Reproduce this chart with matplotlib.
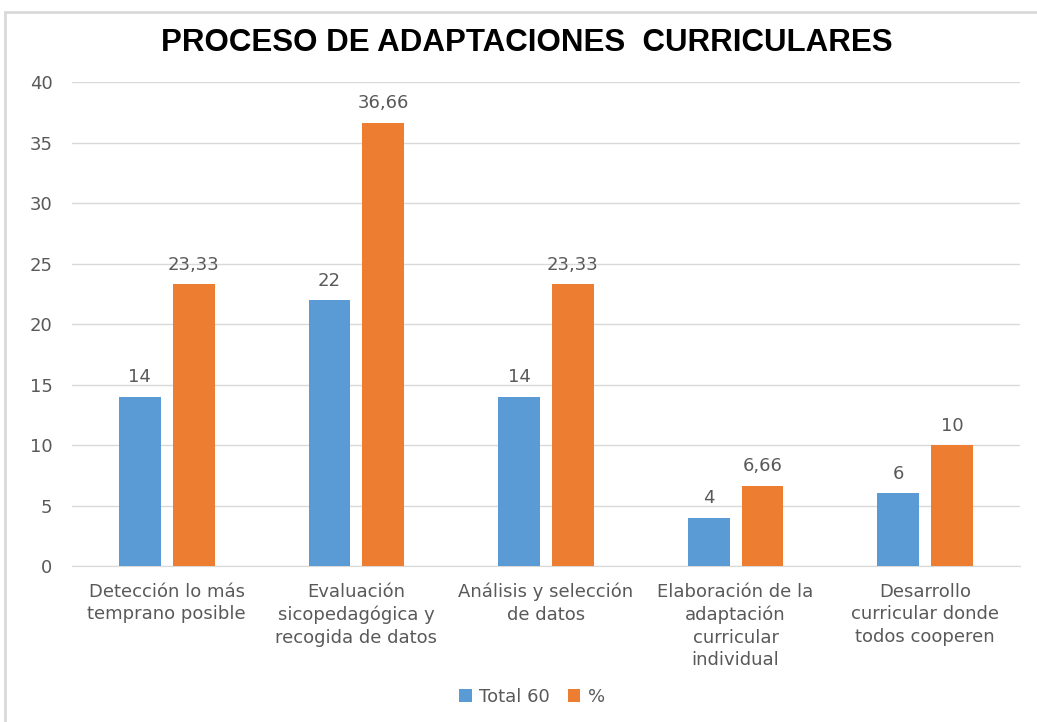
import matplotlib
matplotlib.use("Agg")
import matplotlib.pyplot as plt
import numpy as np
from matplotlib.patches import Rectangle

categories = ["Detección lo más\ntemprano posible",
              "Evaluación\nsicopedagógica y\nrecogida de datos",
              "Análisis y selección\nde datos",
              "Elaboración de la\nadaptación\ncurricular\nindividual",
              "Desarrollo\ncurricular donde\ntodos cooperen"]
total60 = [14, 22, 14, 4, 6]
pct = [23.33, 36.66, 23.33, 6.66, 10]
total_labels = ["14", "22", "14", "4", "6"]
pct_labels = ["23,33", "36,66", "23,33", "6,66", "10"]
yticks = [0, 5, 10, 15, 20, 25, 30, 35, 40]

plt.rcParams['font.family'] = ['DejaVu Sans']
blue = "#5B9BD5"
orange = "#ED7D31"
gray = "#595959"
fs = 13

fig = plt.figure(figsize=(10.37, 7.22), dpi=100)
ax = fig.add_axes([0.0694, 0.216, 0.9142, 0.670])

x = np.arange(len(categories))
w = 0.22
off = 0.142
b1 = ax.bar(x - off, total60, w, color=blue, label="Total 60", zorder=3)
b2 = ax.bar(x + off, pct, w, color=orange, label="%", zorder=3)
for rect, lab in zip(b1, total_labels):
    ax.text(rect.get_x() + rect.get_width() / 2, rect.get_height() + 0.85, lab,
            ha="center", va="bottom", fontsize=fs, color=gray)
for rect, lab in zip(b2, pct_labels):
    ax.text(rect.get_x() + rect.get_width() / 2, rect.get_height() + 0.85, lab,
            ha="center", va="bottom", fontsize=fs, color=gray)

ax.set_xlim(-0.5, 4.5)
ax.set_ylim(0, 40)
ax.set_yticks(yticks)
ax.set_yticklabels([str(v) for v in yticks], fontsize=fs, color=gray)
ax.set_xticks(x)
ax.set_xticklabels(categories, fontsize=fs, color=gray, linespacing=1.33)
ax.tick_params(axis="x", length=0, pad=12)
ax.tick_params(axis="y", length=0, pad=14)
ax.grid(axis="y", color="#D9D9D9", linewidth=1, zorder=0)
for s in ["top", "right", "left"]:
    ax.spines[s].set_visible(False)
ax.spines["bottom"].set_color("#D9D9D9")

fig.text(0.508, 0.940, "PROCESO DE ADAPTACIONES  CURRICULARES", ha="center", va="center",
         fontsize=22.5, fontweight="bold", family="Liberation Sans", color="black")

leg = fig.legend(handles=[b1, b2], labels=["Total 60", "%"], loc="center",
                 bbox_to_anchor=(0.513, 0.035), ncol=2, frameon=False,
                 fontsize=fs, handlelength=0.7, handleheight=0.7,
                 handletextpad=0.4, columnspacing=1.0)
for t in leg.get_texts():
    t.set_color(gray)

fig.patches.append(Rectangle((5 / 1037, -0.01), 1.0, 1 - 12 / 722 + 0.01,
                             transform=fig.transFigure, fill=False,
                             edgecolor="#D9D9D9", linewidth=2))

fig.savefig("out.png", dpi=100, facecolor="white")
